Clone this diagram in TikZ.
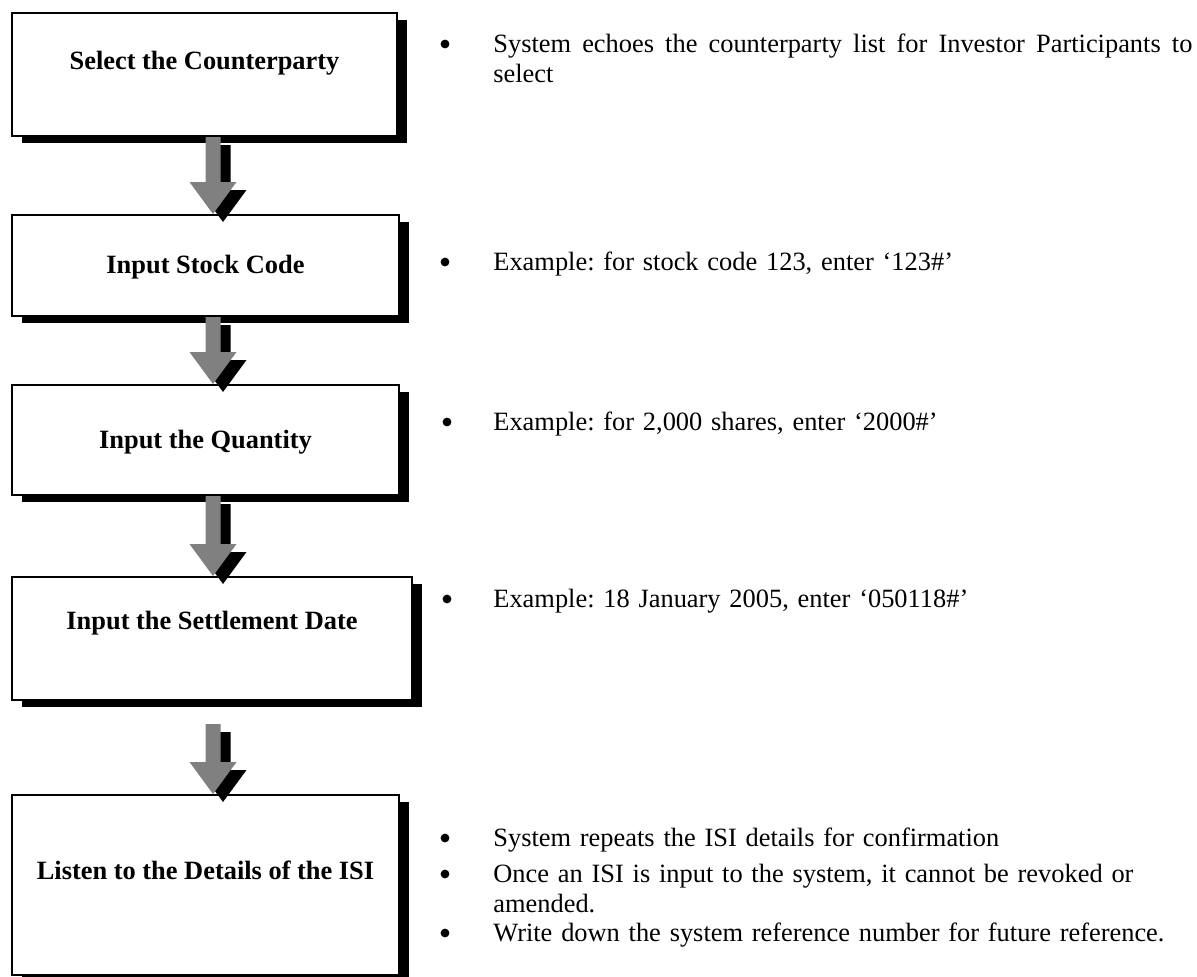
\documentclass[tikz,border=0pt]{standalone}
\usepackage{fontspec}
\setmainfont{Liberation Serif}
\usetikzlibrary{calc,shadows}
\definecolor{arrGray}{HTML}{808080}
\hyphenpenalty=10000
\frenchspacing
\tikzset{
  box/.style={draw, line width=1pt, fill=white, inner sep=0pt, minimum width=193.5pt,
    drop shadow={shadow xshift=5pt, shadow yshift=-3.5pt, opacity=1, fill=black}},
  ttl/.style={anchor=base, inner sep=0pt, font=\fontsize{13.2}{15}\selectfont\bfseries},
  dot/.style={circle, fill=black, inner sep=0pt, minimum size=4.4pt},
  note/.style={anchor=base west, text width=349.5pt, align=left, inner sep=0pt,
    font=\fontsize{13.2}{15}\selectfont},
}
% block arrow with its shadow, from one box down to the next
\newcommand{\flowarrow}[3][0]{%
  \path (#2.south -| ax) ++(0,#1) coordinate (fa-s);
  \path (#3.north -| ax) coordinate (fa-e);
  \foreach \dx/\dy/\col in {10/8/black, 0/0/arrGray}
    \fill[\col] ($(fa-s)+(\dx-7.5,\dy)$) -- ($(fa-e)+(\dx-7.5,\dy-32)$) -- ($(fa-e)+(\dx-23.5,\dy-32)$)
      -- ($(fa-e)+(\dx,\dy)$) -- ($(fa-e)+(\dx+23.5,\dy-32)$) -- ($(fa-e)+(\dx+7.5,\dy-32)$)
      -- ($(fa-s)+(\dx+7.5,\dy)$) -- cycle;
}

\begin{document}
\begin{tikzpicture}[x=0.5pt, y=-0.5pt]
  \useasboundingbox (0,0) rectangle (1197,976);
  \coordinate (ax) at (213,0);

  % steps
  \node[box, minimum width=192.5pt, minimum height=61.5pt] (b1) at (204.5,74.5) {};
  \node[box, minimum height=50.5pt] (b2) at (205.5,265.5) {};
  \node[box, minimum height=55pt] (b3) at (205.5,440) {};
  \node[box, minimum width=200pt, minimum height=61.5pt] (b4) at (212,638.5) {};
  \node[box, minimum height=90pt] (b5) at (205.5,885) {};

  \node[ttl] (t1) at ($(b1.north)+(0,57)$) {Select the Counterparty};
  \node[ttl] (t2) at ($(b2.center)+(0,8)$) {Input Stock Code};
  \node[ttl] (t3) at ($(b3.center)+(0,8)$) {Input the Quantity};
  \node[ttl] (t4) at ($(b4.north)+(0,53)$) {Input the Settlement Date};
  \node[ttl] (t5) at ($(b5.north)+(0,85)$) {Listen to the Details of the ISI};

  \flowarrow{b1}{b2}
  \flowarrow{b2}{b3}
  \flowarrow{b3}{b4}
  \flowarrow[23]{b4}{b5}

  % notes
  \node[dot] (d1) at (445,44) {};
  \node[note, align=justify] (n1) at (493,52) {System echoes the counterparty list for Investor Participants to\linebreak select};
  \node[dot] (d2) at (445,262) {};
  \node[note] (n2) at (493,270) {Example: for stock code 123, enter ‘123\#’};
  \node[dot] (d3) at (447,422) {};
  \node[note] (n3) at (493,430) {Example: for 2,000 shares, enter ‘2000\#’};
  \node[dot] (d4) at (447,599) {};
  \node[note] (n4) at (493,607) {Example: 18 January 2005, enter ‘050118\#’};
  \node[dot] (d5) at (445,838) {};
  \node[note] (n5) at (493,846) {System repeats the ISI details for confirmation};
  \node[dot] (d6) at (445,874) {};
  \node[note] (n6) at (493,882) {Once an ISI is input to the system, it cannot be revoked or\newline amended.};
  \node[dot] (d7) at (445,933) {};
  \node[note] (n7) at (493,941) {Write down the system reference number for future reference.};
\end{tikzpicture}
\end{document}
